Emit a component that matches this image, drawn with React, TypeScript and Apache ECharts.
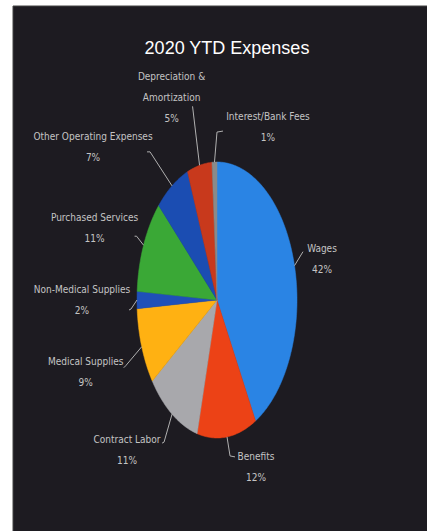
import React, { useEffect, useRef } from "react";
import * as echarts from "echarts";

const TITLE = "2020 YTD Expenses";
const categories = [
  "Wages",
  "Benefits",
  "Contract Labor",
  "Medical Supplies",
  "Non-Medical Supplies",
  "Purchased Services",
  "Other Operating Expenses",
  "Depreciation & Amortization",
  "Interest/Bank Fees",
];
const values = [42, 12, 11, 9, 2, 11, 7, 5, 1];
const colors = [
  "#2a84e4",
  "#ec4216",
  "#a8a8ac",
  "#ffb112",
  "#1f50b8",
  "#3aa836",
  "#1b4db2",
  "#c8391c",
  "#8a8a8a",
];

// layout: label centre offset from slice edge anchor, and leader line points (relative to anchor)
const labelOffsets = [
  [27.5, -6.7],
  [29, 30.5],
  [-45, 36],
  [-56, 25],
  [-55, 0],
  [-49, -17],
  [-79, -39],
  [-28, -68],
  [53.5, -35],
];
const leaderPoints = [
  [[8.5, -14]],
  [[3, 19], [8, 20]],
  [[-8, 28], [-10, 29]],
  [[-16, 19], [-18, 21]],
  [[-6, 9], [-8, 10]],
  [[-7, -9], [-9, -9]],
  [[-22, -34], [-25, -34]],
  [[-7, -59]],
  [[2.5, -30], [8.5, -31]],
];

const CX = 217;
const CY = 300;
const RX = 80;
const RY = 138;

export default function App() {
  const ref = useRef<HTMLDivElement>(null);
  useEffect(() => {
    document.body.style.margin = "0";
    if (!ref.current) return;
    const chart = echarts.init(ref.current, null, { renderer: "svg" });
    const total = values.reduce((a, b) => a + b, 0);
    const cum: number[] = [];
    let acc = 0;
    values.forEach((v) => {
      cum.push(acc);
      acc += v;
    });
    const pt = (frac: number) => {
      const t = frac * Math.PI * 2;
      return [CX + RX * Math.sin(t), CY - RY * Math.cos(t)];
    };
    const renderItem = (params: any, api: any) => {
      const i = params.dataIndex;
      const v = api.value(0);
      const f0 = cum[i] / total;
      const f1 = (cum[i] + v) / total;
      const n = Math.max(2, Math.ceil((f1 - f0) * 360));
      const pts: number[][] = [[CX, CY]];
      for (let k = 0; k <= n; k++) pts.push(pt(f0 + ((f1 - f0) * k) / n));
      const anchor = pt((f0 + f1) / 2);
      const line = [anchor, ...leaderPoints[i].map((p) => [anchor[0] + p[0], anchor[1] + p[1]])];
      const pct = Math.round((v / total) * 100);
      const name = categories[i].replace(" & ", " &\n");
      return {
        type: "group",
        children: [
          {
            type: "polygon",
            shape: { points: pts },
            style: { fill: colors[i], stroke: colors[i], lineWidth: 0.5 },
          },
          {
            type: "polyline",
            shape: { points: line },
            style: { stroke: "#b0b0b0", lineWidth: 1, fill: null },
          },
          {
            type: "text",
            style: {
              text: name + "\n" + pct + "%",
              x: anchor[0] + labelOffsets[i][0],
              y: anchor[1] + labelOffsets[i][1],
              align: "center",
              verticalAlign: "middle",
              fill: "#c4c4c4",
              fontSize: 10,
              lineHeight: 21,
              fontFamily: "'Liberation Sans Narrow', 'DejaVu Sans Condensed', sans-serif",
            },
          },
        ],
      };
    };
    chart.setOption({
      animation: false,
      backgroundColor: "#ffffff",
      title: {
        text: TITLE,
        left: 222,
        top: 34,
        textAlign: "center",
        textStyle: {
          color: "#ffffff",
          fontSize: 18,
          fontWeight: "normal",
          fontFamily: "'Liberation Sans', sans-serif",
        },
      },
      graphic: [
        {
          type: "rect",
          shape: { x: 13, y: 6, width: 420, height: 530 },
          style: { fill: "#1d1b21", stroke: "#444", lineWidth: 1 },
          z: -10,
        },
      ],
      series: [
        {
          type: "custom",
          coordinateSystem: "none",
          renderItem,
          data: values.map((v, i) => ({ name: categories[i], value: [v] })),
        },
      ],
    });
    return () => chart.dispose();
  }, []);
  return <div ref={ref} style={{ width: 427, height: 531 }} />;
}
